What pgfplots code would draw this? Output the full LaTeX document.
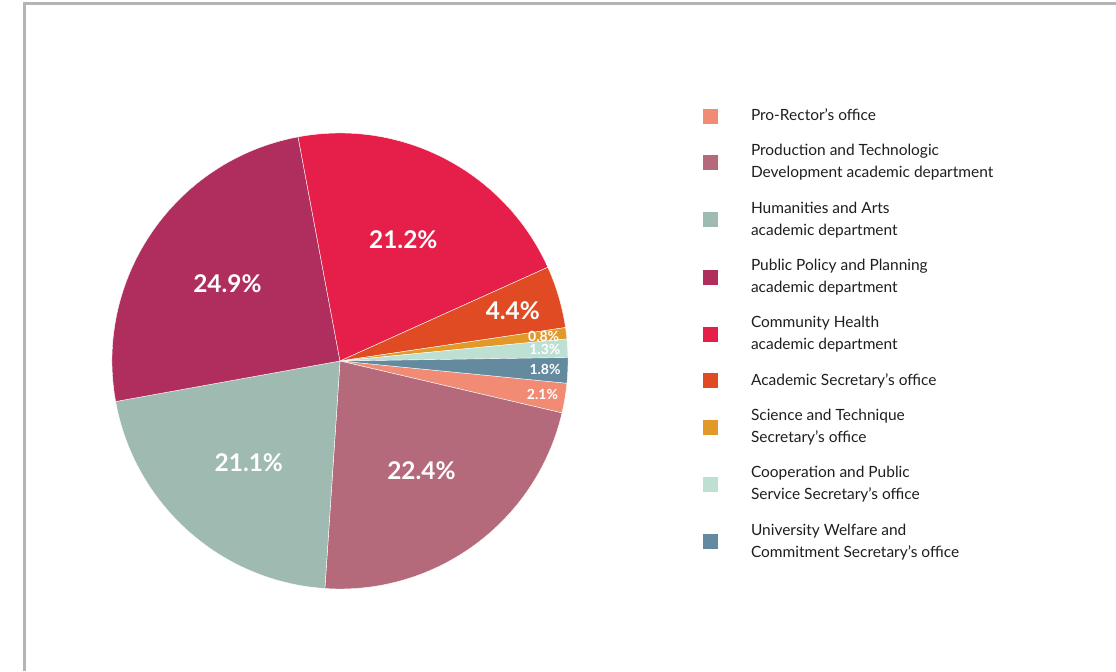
\documentclass[border=0pt]{standalone}
\usepackage{pgfplots}
\pgfplotsset{compat=1.18}
\usepackage{pgfplotstable}
\usepackage{fontspec}
\setmainfont{Lato}

\definecolor{s0}{RGB}{242,139,115}
\definecolor{s1}{RGB}{180,106,122}
\definecolor{s2}{RGB}{159,186,176}
\definecolor{s3}{RGB}{176,46,94}
\definecolor{s4}{RGB}{229,30,74}
\definecolor{s5}{RGB}{225,75,35}
\definecolor{s6}{RGB}{227,153,42}
\definecolor{s7}{RGB}{189,224,211}
\definecolor{s8}{RGB}{100,138,160}
\definecolor{bordergray}{RGB}{180,180,180}
\definecolor{legtext}{RGB}{30,30,30}

% shares in percent, clockwise from the start angle
\pgfplotstableread{
pct
2.1
22.4
21.1
24.9
21.2
4.4
0.8
1.3
1.8
}\piedata

\newcommand\bigfont{\fontsize{18.3}{20}\selectfont\bfseries}
\newcommand\smallfont{\fontsize{10.5}{12}\selectfont\bfseries}
\newcommand\entry[1]{\begin{tabular}{@{}l@{}}#1\end{tabular}}

\begin{document}
\begin{tikzpicture}
\def\cx{340}\def\cy{310}\def\R{228}\def\startang{-5.6}
\gdef\cum{0}
\foreach \i in {0,...,8}{%
  \pgfplotstablegetelem{\i}{pct}\of\piedata
  \let\p\pgfplotsretval
  \pgfmathsetmacro\a{\startang-3.6*\cum}%
  \pgfmathsetmacro\b{\startang-3.6*(\cum+\p)}%
  \pgfmathsetmacro\m{(\a+\b)/2}%
  \pgfmathtruncatemacro\cls{\p<3 ? 0 : (\p<10 ? 1 : 2)}%
  \ifcase\cls \def\rf{0.9}\def\lf{\noexpand\smallfont}%
  \or \def\rf{0.79}\def\lf{\noexpand\bigfont}%
  \else \def\rf{0.6}\def\lf{\noexpand\bigfont}\fi
  \pgfmathsetmacro\sx{\cx+\R*cos(\a)}%
  \pgfmathsetmacro\sy{\cy+\R*sin(\a)}%
  \pgfmathsetmacro\lx{\cx+\rf*\R*cos(\m)}%
  \pgfmathsetmacro\ly{\cy+\rf*\R*sin(\m)}%
  \expandafter\xdef\csname pa\i\endcsname{\a}%
  \expandafter\xdef\csname pb\i\endcsname{\b}%
  \expandafter\xdef\csname sx\i\endcsname{\sx}%
  \expandafter\xdef\csname sy\i\endcsname{\sy}%
  \expandafter\xdef\csname lx\i\endcsname{\lx}%
  \expandafter\xdef\csname ly\i\endcsname{\ly}%
  \expandafter\xdef\csname lf\i\endcsname{\lf}%
  \expandafter\xdef\csname pct\i\endcsname{\p}%
  \pgfmathsetmacro\nc{\cum+\p}\global\let\cum\nc
}
\begin{axis}[
  scale only axis, width=837pt, height=503.25pt,
  xmin=0, xmax=1116, ymin=0, ymax=671,
  hide axis, clip=false,
  legend style={
    draw=none, fill=none,
    at={(0.62993,0.8435)}, anchor=north west,
    inner sep=0pt, outer sep=0pt,
    row sep=10pt, column sep=24.75pt,
    font=\fontsize{11.6}{16.5}\selectfont,
    text=legtext,
    nodes={inner sep=0pt, text depth=, text height=},
  },
  legend cell align=left,
]
\pgfplotsinvokeforeach{0,...,8}{
  \fill[fill=s#1, draw=white, line width=0.3pt, line join=round]
    (axis cs:340,310) -- (axis cs:\csname sx#1\endcsname,\csname sy#1\endcsname)
    arc[start angle=\csname pa#1\endcsname, end angle=\csname pb#1\endcsname, radius=171pt] -- cycle;
}
\pgfplotsinvokeforeach{0,...,8}{
  \node[text=white, font=\csname lf#1\endcsname, inner sep=0pt]
    at (axis cs:\csname lx#1\endcsname,\csname ly#1\endcsname) {\csname pct#1\endcsname\%};
}
\draw[color=bordergray, line width=1.9pt] (axis cs:24.5,0) -- (axis cs:24.5,667.7) -- (axis cs:1116,667.7);

\pgfplotsinvokeforeach{0,...,8}{
  \addlegendimage{fill=s#1, draw=none, legend image code/.code={\fill (0pt,-5.625pt) rectangle (11.25pt,5.625pt);}}
}
\addlegendentry{\entry{Pro-Rector's office}}
\addlegendentry{\entry{Production and Technologic\\Development academic department}}
\addlegendentry{\entry{Humanities and Arts\\academic department}}
\addlegendentry{\entry{Public Policy and Planning\\academic department}}
\addlegendentry{\entry{Community Health\\academic department}}
\addlegendentry{\entry{Academic Secretary's office}}
\addlegendentry{\entry{Science and Technique\\Secretary's office}}
\addlegendentry{\entry{Cooperation and Public\\Service Secretary's office}}
\addlegendentry{\entry{University Welfare and\\Commitment Secretary's office}}
\end{axis}
\pgfresetboundingbox
\path (current axis.south west) rectangle (current axis.north east);
\end{tikzpicture}
\end{document}
